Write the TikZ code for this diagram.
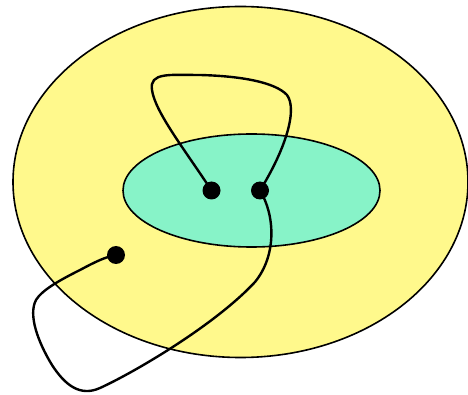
\documentclass[tikz,border=0pt]{standalone}
\definecolor{shellyellow}{RGB}{255,249,140}
\definecolor{coremint}{RGB}{135,243,200}
\tikzset{
    pt/.style={circle, fill=black, inner sep=0pt, minimum size=18pt},
    loopline/.style={line width=2.4pt, line join=round}
}
\begin{document}
\begin{tikzpicture}[x=1pt, y=-1pt]
    \useasboundingbox (0,0) rectangle (468,395);

    \draw[fill=shellyellow, line width=1.6pt] (240.5,182) ellipse (227.5 and 175.5);
    \draw[fill=coremint, line width=1.6pt] (251.5,190.5) ellipse (128.5 and 56.5);

    \node[pt] (a) at (211.5,190.5) {};
    \node[pt] (b) at (260,190.5) {};
    \node[pt] (c) at (116,255) {};

    \draw[loopline] (a.center)
        .. controls (185,150) and (155,112) .. (152,90)
        .. controls (149,72) and (170,75) .. (200,75)
        .. controls (240,76) and (275,82) .. (287,95)
        .. controls (298,110) and (285,150) .. (b.center);

    \draw[loopline] (b.center)
        .. controls (275,215) and (277,255) .. (255,282)
        .. controls (215,325) and (135,372) .. (100,388)
        .. controls (80,397) and (65,385) .. (52,365)
        .. controls (38,342) and (28,315) .. (36,300)
        .. controls (42,290) and (60,280) .. (80,270)
        .. controls (95,262) and (105,257) .. (c.center);
\end{tikzpicture}
\end{document}
